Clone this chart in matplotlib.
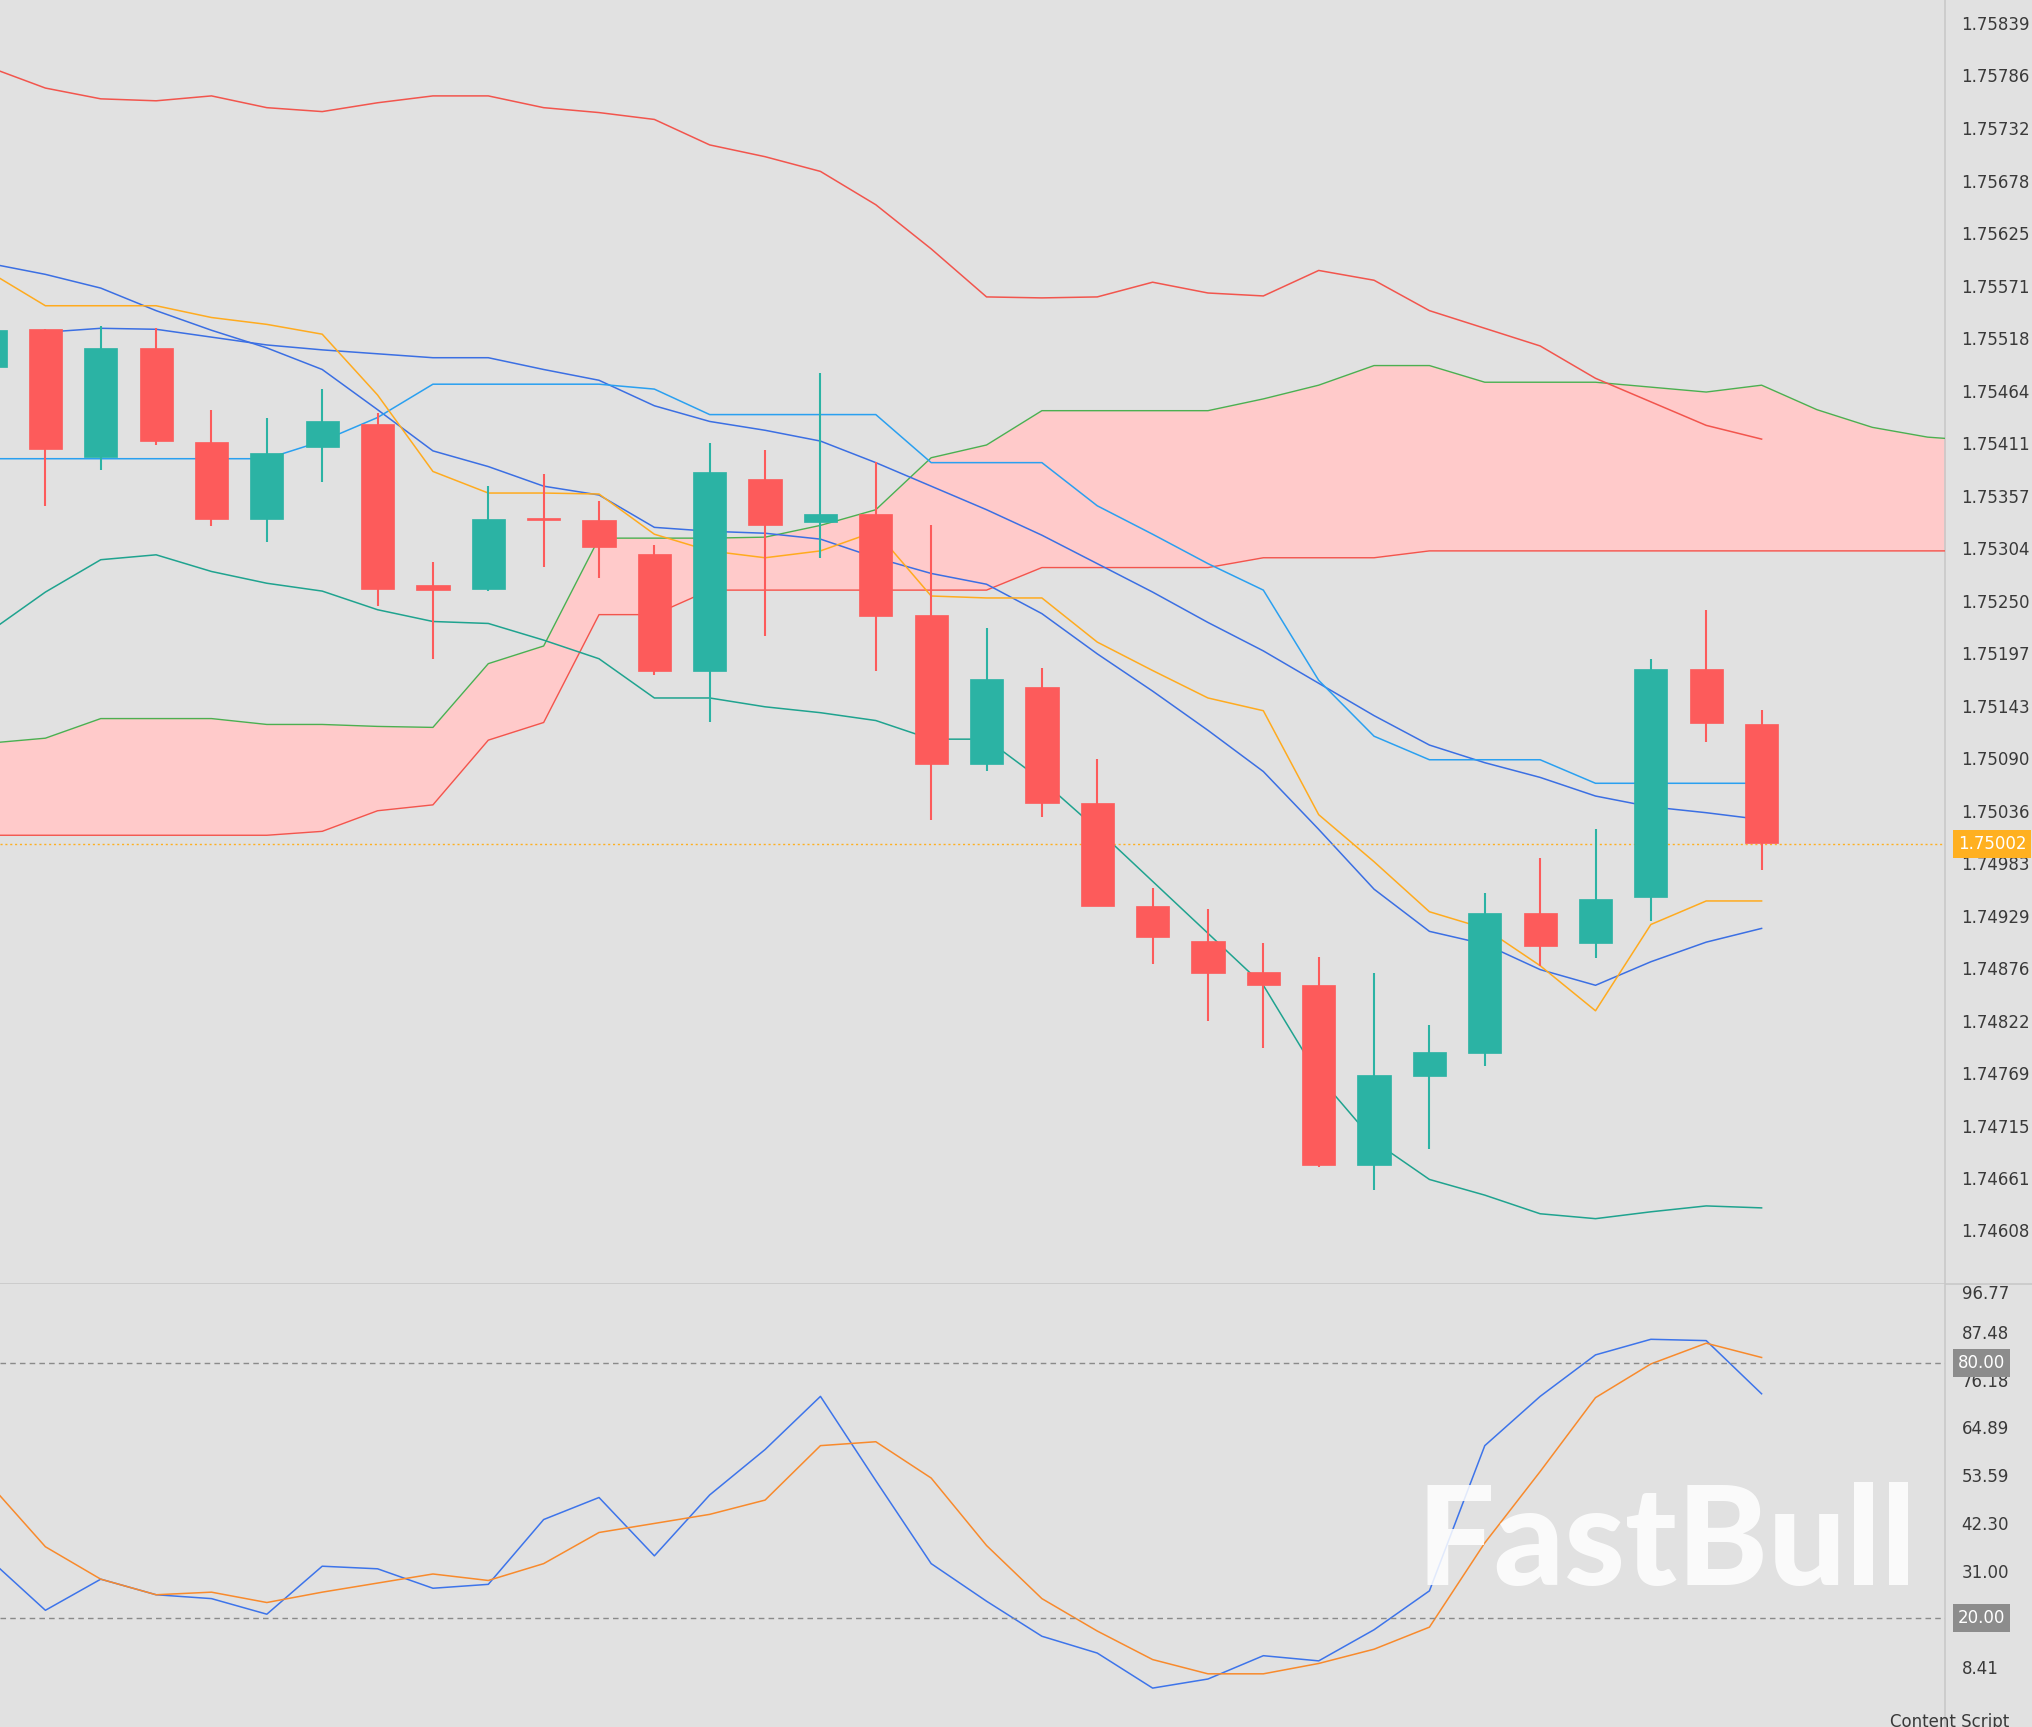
import matplotlib
matplotlib.use("Agg")
import matplotlib.pyplot as plt
import matplotlib.transforms as mtrans
import numpy as np

# ---------------- data ----------------
opens  = [1.75489,1.75527,1.75397,1.75508,1.75412,1.75334,1.75407,1.75430,1.75266,1.75262,1.75334,1.75333,1.75298,1.75179,1.75374,1.75330,1.75339,1.75236,1.75084,1.75162,1.75044,1.74939,1.74903,1.74872,1.74858,1.74675,1.74765,1.74789,1.74932,1.74901,1.74948,1.75181,1.75124]
highs  = [1.75532,1.75527,1.75530,1.75528,1.75445,1.75437,1.75466,1.75442,1.75290,1.75367,1.75379,1.75352,1.75307,1.75411,1.75404,1.75482,1.75392,1.75327,1.75222,1.75182,1.75089,1.74957,1.74936,1.74901,1.74887,1.74871,1.74818,1.74952,1.74988,1.75017,1.75191,1.75241,1.75139]
lows   = [1.75486,1.75347,1.75384,1.75409,1.75326,1.75310,1.75371,1.75245,1.75191,1.75260,1.75285,1.75273,1.75174,1.75126,1.75214,1.75294,1.75179,1.75027,1.75077,1.75030,1.74939,1.74880,1.74822,1.74794,1.74673,1.74649,1.74691,1.74776,1.74878,1.74886,1.74924,1.75106,1.74976]
closes = [1.75526,1.75405,1.75508,1.75413,1.75334,1.75401,1.75433,1.75262,1.75261,1.75334,1.75333,1.75305,1.75179,1.75381,1.75327,1.75339,1.75235,1.75084,1.75170,1.75044,1.74939,1.74907,1.74871,1.74858,1.74675,1.74767,1.74790,1.74932,1.74898,1.74946,1.75181,1.75125,1.75003]

bb_upper = [1.75794,1.75773,1.75762,1.75760,1.75765,1.75753,1.75749,1.75758,1.75765,1.75765,1.75753,1.75748,1.75741,1.75715,1.75703,1.75688,1.75654,1.75609,1.75560,1.75559,1.75560,1.75575,1.75564,1.75561,1.75587,1.75577,1.75546,1.75528,1.75510,1.75477,1.75453,1.75429,1.75415]
bb_mid   = [1.75524,1.75528,1.75527,1.75519,1.75511,1.75506,1.75502,1.75498,1.75498,1.75486,1.75475,1.75449,1.75433,1.75424,1.75413,1.75391,1.75367,1.75343,1.75317,1.75288,1.75259,1.75228,1.75199,1.75166,1.75133,1.75103,1.75085,1.75070,1.75051,1.75040,1.75034,1.75027]
bb_lower = [1.75219,1.75259,1.75292,1.75297,1.75280,1.75268,1.75260,1.75241,1.75229,1.75227,1.75210,1.75191,1.75151,1.75151,1.75142,1.75136,1.75128,1.75109,1.75109,1.75067,1.75017,1.74964,1.74911,1.74858,1.74765,1.74699,1.74660,1.74644,1.74625,1.74620,1.74627,1.74633,1.74631]
ma_blue  = [1.75594,1.75583,1.75569,1.75546,1.75526,1.75508,1.75486,1.75445,1.75403,1.75387,1.75367,1.75358,1.75325,1.75321,1.75319,1.75313,1.75294,1.75278,1.75267,1.75237,1.75196,1.75158,1.75118,1.75076,1.75017,1.74956,1.74913,1.74900,1.74874,1.74858,1.74882,1.74902,1.74916]
kijun    = [1.75395,1.75395,1.75395,1.75395,1.75395,1.75395,1.75413,1.75437,1.75471,1.75471,1.75471,1.75471,1.75466,1.75440,1.75440,1.75440,1.75440,1.75391,1.75391,1.75391,1.75347,1.75318,1.75288,1.75261,1.75169,1.75112,1.75088,1.75088,1.75088,1.75064,1.75064,1.75064,1.75064]
tenkan   = [1.75585,1.75551,1.75551,1.75551,1.75539,1.75532,1.75522,1.75460,1.75382,1.75360,1.75360,1.75359,1.75318,1.75301,1.75294,1.75301,1.75321,1.75255,1.75253,1.75253,1.75208,1.75179,1.75151,1.75138,1.75032,1.74984,1.74933,1.74916,1.74878,1.74832,1.74920,1.74944,1.74944]
senkou_a = [1.75105,1.75110,1.75130,1.75130,1.75130,1.75124,1.75124,1.75122,1.75121,1.75186,1.75204,1.75314,1.75314,1.75314,1.75315,1.75327,1.75343,1.75396,1.75409,1.75444,1.75444,1.75444,1.75444,1.75456,1.75470,1.75490,1.75490,1.75473,1.75473,1.75473,1.75468,1.75463,1.75470,1.75445,1.75427,1.75417,1.75413]
senkou_b = [1.75011,1.75011,1.75011,1.75011,1.75011,1.75011,1.75015,1.75036,1.75042,1.75108,1.75126,1.75236,1.75236,1.75261,1.75261,1.75261,1.75261,1.75261,1.75261,1.75284,1.75284,1.75284,1.75284,1.75294,1.75294,1.75294,1.75301,1.75301,1.75301,1.75301,1.75301,1.75301,1.75301,1.75301,1.75301,1.75301,1.75301]
stoch_k  = [33.75,21.84,29.17,25.50,24.59,20.92,32.22,31.61,27.03,27.95,43.21,48.40,34.66,49.01,59.70,72.21,52.37,32.83,23.98,15.73,11.77,3.52,5.66,11.15,9.93,17.26,26.42,60.61,72.21,81.98,85.65,85.34,72.82]
stoch_d  = [51.45,36.80,29.17,25.50,26.11,23.67,26.11,28.25,30.39,28.86,32.83,40.16,42.29,44.43,47.79,60.61,61.53,52.98,37.10,24.59,16.96,10.24,6.88,6.88,9.32,12.68,17.87,37.71,54.51,71.91,79.85,84.73,81.37]

price_ticks = [1.75839,1.75786,1.75732,1.75678,1.75625,1.75571,1.75518,1.75464,1.75411,1.75357,1.75304,1.75250,1.75197,1.75143,1.75090,1.75036,1.74983,1.74929,1.74876,1.74822,1.74769,1.74715,1.74661,1.74608]
stoch_ticks = [96.77,87.48,76.18,64.89,53.59,42.30,31.00,8.41]
last_price = 1.75002
stoch_levels = [80.0, 20.0]

# ---------------- style ----------------
BG = "#e1e1e1"
UP = "#2bb3a4"
DN = "#fd5b5b"
TXT = "#3a3a3a"

W, H = 2033, 1727
fig = plt.figure(figsize=(W/100, H/100), dpi=100, facecolor=BG)
axw = 1500/1568
ax = fig.add_axes([0, 1-990/1332, axw, 990/1332], facecolor=BG)
ax2 = fig.add_axes([0, 0, axw, (1332-990)/1332], facecolor=BG)

x = np.arange(-1, len(opens)-1)
for a in (ax, ax2):
    a.set_xlim(-0.82, 34.31)
    for s in a.spines.values():
        s.set_visible(False)
    a.set_xticks([])
    a.yaxis.tick_right()
    a.tick_params(axis='y', length=0, pad=12, labelsize=12, labelcolor=TXT)
    a.axvline(34.31, color="#c8c8c8", lw=1.2, clip_on=False)

ax.set_ylim(1.745538, 1.758628)
ax2.set_ylim(-5.64, 98.77)
ax.set_yticks(price_ticks)
ax.set_yticklabels([f"{v:.5f}" for v in price_ticks])
ax2.set_yticks(stoch_ticks)
ax2.set_yticklabels([f"{v:.2f}" for v in stoch_ticks])
ax.axhline(ax.get_ylim()[0], color="#c8c8c8", lw=1.2, xmax=1.05, clip_on=False)

# cloud
xc = np.arange(-1, len(senkou_a)-1)
ax.fill_between(xc, senkou_a, senkou_b, color="#ffcaca", lw=0, zorder=1)
ax.plot(xc, senkou_a, color="#4caf50", lw=1.0, zorder=2)
ax.plot(xc, senkou_b, color="#f2554d", lw=1.0, zorder=2)

lw = 1.1
ax.plot(x, bb_upper, color="#f2554d", lw=lw, zorder=2)
ax.plot(np.arange(0, len(bb_mid)), bb_mid, color="#3b6fe3", lw=lw, zorder=2)
ax.plot(x, bb_lower, color="#1fa38f", lw=lw, zorder=2)
ax.plot(x, ma_blue, color="#3b6fe3", lw=lw, zorder=2)
ax.plot(x, kijun, color="#2aa0f0", lw=lw, zorder=2)
ax.plot(x, tenkan, color="#ffab1f", lw=lw, zorder=2)

# candles
o = np.array(opens); c = np.array(closes); h = np.array(highs); l = np.array(lows)
cols = [UP if cc >= oo else DN for oo, cc in zip(o, c)]
ax.vlines(x, l, h, colors=cols, lw=1.5, zorder=3)
ax.bar(x, np.maximum(np.abs(c-o), 0.000012), bottom=np.minimum(o, c), width=0.6,
       color=cols, edgecolor=cols, lw=0.5, zorder=4)

# last price
ax.axhline(last_price, color="#ffb020", lw=1.0, ls=(0, (1.5, 2)), zorder=2)
tr = mtrans.blended_transform_factory(ax.transAxes, ax.transData)
ax.text(1.0066, last_price, f"{last_price:.5f}", transform=tr, va="center", ha="left",
        fontsize=12, color="white", zorder=10,
        bbox=dict(boxstyle="square,pad=0.3", fc="#ffb020", ec="none"))

# stochastic
ax2.plot(x, stoch_k, color="#3d74ea", lw=lw)
ax2.plot(x, stoch_d, color="#f88a2c", lw=lw)
tr2 = mtrans.blended_transform_factory(ax2.transAxes, ax2.transData)
for lv in stoch_levels:
    ax2.axhline(lv, color="#8a8a8a", lw=1.0, ls=(0, (4, 3)))
    ax2.text(1.0066, lv, f"{lv:.2f}", transform=tr2, va="center", ha="left",
             fontsize=12, color="white", zorder=10,
             bbox=dict(boxstyle="square,pad=0.3", fc="#8c8c8c", ec="none"))

ax2.text(1285/1500, 0.41, "FastBull", transform=ax2.transAxes, fontsize=99,
         fontweight="black", color="white", alpha=0.85, ha="center", va="center",
         family="Lato")
fig.text(1458/1568, 0.003, "Content Script", fontsize=12, color=TXT, ha="left", va="center")

fig.savefig("out.png", dpi=100, facecolor=BG)
